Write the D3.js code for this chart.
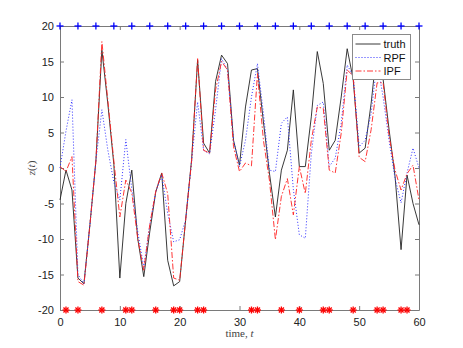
<html>
<head>
    <meta charset="utf-8">
    <style>
        body { margin: 0; background: #fff; }
        .tick text { font-family: "Liberation Sans", Arial, sans-serif; font-size: 11px; fill: #222; }
        .axis path, .axis line { stroke: #7a7a7a; }
    </style>
</head>
<body>
    <div></div>
    <script src="https://d3js.org/d3.v7.min.js"></script>
    <script>
        // time steps 0..60
        var times = [0, 1, 2, 3, 4, 5, 6, 7, 8, 9, 10, 11, 12, 13, 14, 15, 16, 17, 18, 19, 20,
            21, 22, 23, 24, 25, 26, 27, 28, 29, 30, 31, 32, 33, 34, 35, 36, 37, 38, 39, 40,
            41, 42, 43, 44, 45, 46, 47, 48, 49, 50, 51, 52, 53, 54, 55, 56, 57, 58, 59, 60];

        var truth = [-4.5, -0.3, -3.1, -15.5, -16.3, -8, 1, 16.6, 9, 0.5, -15.5,
            -5, -0.3, -10, -15.3, -9, -3.4, -0.7, -13, -16.6, -16,
            -7.3, 1.2, 15.2, 3.5, 2.1, 12.2, 15.9, 14.7, 3.9, 0.4,
            8.6, 13.8, 14, 6.5, -0.7, -6.9, -0.3, 2.5, 11, 0.2,
            0.2, 7.2, 16.4, 11.9, 2.5, 3.9, 10, 16.8, 12.5, 2.1,
            2.8, 9.1, 17, 12.5, 5.4, -1.2, -11.5, -1, -5, -8];

        var rpf = [0, 5.2, 9.6, -15, -16.3, -8, 1, 8.2, 2.5, -2, -4.5,
            4, -3, -9, -14, -8, -3.4, -1, -6.4, -10.4, -10.1,
            -7.3, 1, 9.3, 2.5, 2, 8.2, 15.4, 13.8, 3.9, 0.2,
            3.9, 10, 14.7, 7.7, -0.3, -0.5, 6.3, 7.2, -3, -9.4,
            -9.9, 2, 8.8, 9.3, 0.2, 1.4, 6.3, 14.5, 13, 3,
            3.9, 7.7, 15, 10, 3.9, -1.5, -4.9, -0.7, 2.8, 0];

        var ipf = [0.2, -0.5, 1.6, -16, -16.5, -8, 1, 17.8, 9.5, 1, -6.9,
            -1.7, -3.5, -10, -14.4, -8, -3.3, -0.7, -3.6, -15.5, -15.8,
            -7.3, 1, 15.4, 2.5, 2.1, 11, 15, 13.8, 3, -0.5,
            0.7, 0.3, 13.3, 3.9, -1.7, -10.1, -4, -1.5, -6.6, 0.2,
            -3.6, 3.9, 8.6, 8.4, -0.3, -0.7, 4.9, 13.8, 13, 1.5,
            0.9, 5.4, 12, 12, 4.5, -0.3, -3.1, -0.8, 0.4, -4.5];

        // observation times (red stars at the bottom)
        var obsTimes = [1, 3, 7, 11, 12, 16, 19, 20, 23, 24, 32, 33, 37, 40, 44, 45, 49, 53, 54, 57, 58];
        // resampling times (blue plus at the top)
        var resampleTimes = [0, 3, 6, 9, 12, 15, 18, 21, 24, 27, 30, 33, 36, 39, 42, 45, 48, 51, 54, 57, 60];

        var xTicks = [0, 10, 20, 30, 40, 50, 60];
        var yTicks = [-20, -15, -10, -5, 0, 5, 10, 15, 20];
        var legendNames = ["truth", "RPF", "IPF"];

        var width = 463, height = 348;
        var margin = { left: 60, right: 44, top: 26, bottom: 38 };

        var svg = d3.select("body").append("svg")
            .attr("width", width)
            .attr("height", height)
            .style("display", "block");

        var x = d3.scaleLinear().domain([0, 60]).range([margin.left, width - margin.right]);
        var y = d3.scaleLinear().domain([-20, 20]).range([height - margin.bottom, margin.top]);

        var tickLen = 4;
        var fmt = function (d) { return String(d); };

        // axes (box with inward ticks)
        svg.append("g").attr("class", "axis")
            .attr("transform", "translate(0," + y(-20) + ")")
            .call(d3.axisBottom(x).tickValues(xTicks).tickFormat(fmt).tickSizeInner(-tickLen).tickSizeOuter(0).tickPadding(8));
        svg.append("g").attr("class", "axis")
            .attr("transform", "translate(0," + y(20) + ")")
            .call(d3.axisTop(x).tickValues(xTicks).tickSizeInner(-tickLen).tickSizeOuter(0).tickFormat(""));
        svg.append("g").attr("class", "axis")
            .attr("transform", "translate(" + x(0) + ",0)")
            .call(d3.axisLeft(y).tickValues(yTicks).tickFormat(fmt).tickSizeInner(-tickLen).tickSizeOuter(0).tickPadding(6));
        svg.append("g").attr("class", "axis")
            .attr("transform", "translate(" + x(60) + ",0)")
            .call(d3.axisRight(y).tickValues(yTicks).tickSizeInner(-tickLen).tickSizeOuter(0).tickFormat(""));

        // labels
        svg.append("text")
            .attr("x", (x(0) + x(60)) / 2)
            .attr("y", 337)
            .attr("text-anchor", "middle")
            .style("font-family", "'Liberation Serif', 'DejaVu Serif', serif")
            .style("font-size", "11px")
            .style("fill", "#444")
            .html("time, <tspan font-style='italic'>t</tspan>");

        svg.append("text")
            .attr("transform", "translate(35," + y(0) + ") rotate(-90)")
            .attr("text-anchor", "middle")
            .style("font-family", "'Liberation Serif', 'DejaVu Serif', serif")
            .style("font-size", "11px")
            .style("fill", "#444")
            .html("<tspan font-style='italic'>z</tspan>(<tspan font-style='italic'>t</tspan>)");

        var line = function (vals) {
            return d3.line()
                .x(function (d, i) { return x(times[i]); })
                .y(function (d) { return y(d); })(vals);
        };

        var series = [
            { name: "truth", values: truth, color: "#222", dash: null, w: 0.9 },
            { name: "RPF", values: rpf, color: "#3030ff", dash: "1,2", w: 1 },
            { name: "IPF", values: ipf, color: "#ff2020", dash: "6,2,1.5,2", w: 0.9 }
        ];

        svg.append("g").selectAll("path")
            .data(series)
            .enter().append("path")
            .attr("d", function (d) { return line(d.values); })
            .attr("fill", "none")
            .attr("stroke", function (d) { return d.color; })
            .attr("stroke-width", function (d) { return d.w; })
            .attr("stroke-dasharray", function (d) { return d.dash; });

        // blue plus markers at z = 20
        var plus = svg.append("g").attr("stroke", "#0000ff").attr("stroke-width", 1.3);
        resampleTimes.forEach(function (t) {
            var cx = x(t), cy = y(20), s = 3.5;
            plus.append("line").attr("x1", cx - s).attr("x2", cx + s).attr("y1", cy).attr("y2", cy);
            plus.append("line").attr("x1", cx).attr("x2", cx).attr("y1", cy - s).attr("y2", cy + s);
        });

        // red asterisk markers at z = -20
        var stars = svg.append("g").attr("stroke", "#ff0000").attr("stroke-width", 1.3);
        obsTimes.forEach(function (t) {
            var cx = x(t), cy = y(-20), s = 3.5, d = s * 0.72;
            stars.append("line").attr("x1", cx - s).attr("x2", cx + s).attr("y1", cy).attr("y2", cy);
            stars.append("line").attr("x1", cx).attr("x2", cx).attr("y1", cy - s).attr("y2", cy + s);
            stars.append("line").attr("x1", cx - d).attr("x2", cx + d).attr("y1", cy - d).attr("y2", cy + d);
            stars.append("line").attr("x1", cx - d).attr("x2", cx + d).attr("y1", cy + d).attr("y2", cy - d);
        });

        // legend
        var lg = svg.append("g").attr("transform", "translate(352.5,34.5)");
        lg.append("rect")
            .attr("width", 58).attr("height", 45)
            .attr("fill", "#fff")
            .attr("stroke", "#8a8a8a")
            .attr("stroke-width", 1);
        legendNames.forEach(function (name, i) {
            var s = series[i];
            var ly = 9.5 + i * 13.5;
            lg.append("line")
                .attr("x1", 3).attr("x2", 28)
                .attr("y1", ly).attr("y2", ly)
                .attr("stroke", s.color)
                .attr("stroke-width", s.w)
                .attr("stroke-dasharray", s.dash);
            lg.append("text")
                .attr("x", 31).attr("y", ly + 4)
                .style("font-family", "'Liberation Sans', Arial, sans-serif")
                .style("font-size", "11px")
                .style("fill", "#111")
                .text(name);
        });
    </script>
</body>
</html>
